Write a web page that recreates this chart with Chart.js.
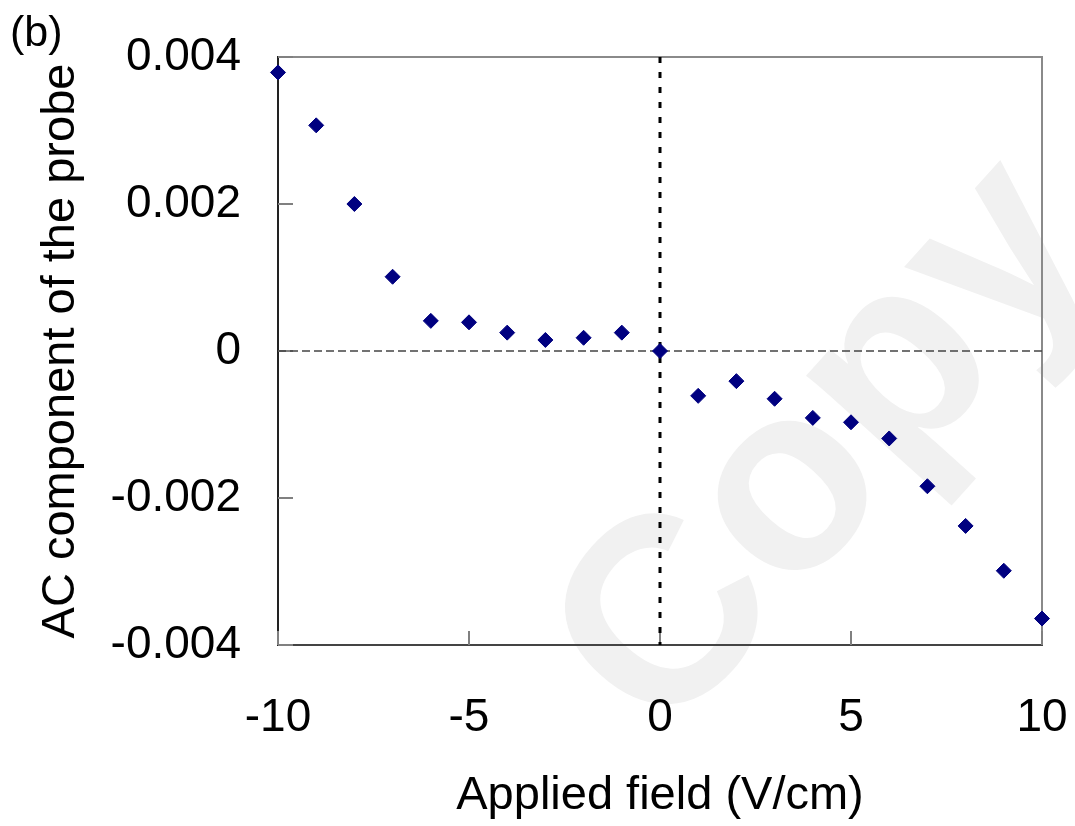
<!DOCTYPE html>
<html>
<head>
<meta charset="utf-8">
<script src="https://cdn.jsdelivr.net/npm/chart.js@4"></script>
<style>
  html, body { margin: 0; padding: 0; background: #ffffff; }
  #wrap { width: 1075px; height: 826px; position: relative; }
</style>
</head>
<body>
<div id="wrap"><canvas id="c" width="1075" height="826"></canvas></div>
<script>
// ---- data ----
const fieldValues = [-10, -9, -8, -7, -6, -5, -4, -3, -2, -1, 0, 1, 2, 3, 4, 5, 6, 7, 8, 9, 10];
const acValues = [0.00379, 0.00307, 0.00200, 0.00101, 0.00041, 0.00039, 0.00025, 0.00015, 0.00018, 0.00025, 0.0,
                  -0.00061, -0.00041, -0.00065, -0.00091, -0.00097, -0.00119, -0.00184, -0.00238, -0.00299, -0.00364];
const xTickValues = [-10, -5, 0, 5, 10];
const xTickLabels = ['-10', '-5', '0', '5', '10'];
const yTickValues = [-0.004, -0.002, 0, 0.002, 0.004];
const yTickLabels = ['-0.004', '-0.002', '0', '0.002', '0.004'];
const xTitle = 'Applied field (V/cm)';
const yTitle = 'AC component of the probe';
const panelLabel = '(b)';
const watermarkText = 'Copy';

const FONT = '"Liberation Sans", Arial, sans-serif';

function labelFor(values, labels, v) {
  for (let i = 0; i < values.length; i++) {
    if (Math.abs(values[i] - v) < 1e-9) return labels[i];
  }
  return '';
}

const decorPlugin = {
  id: 'decor',
  beforeDraw(chart) {
    const ctx = chart.ctx;
    ctx.save();
    ctx.fillStyle = '#ffffff';
    ctx.fillRect(0, 0, chart.width, chart.height);
    // watermark
    ctx.fillStyle = '#f1f1f1';
    ctx.font = 'bold 265px ' + FONT;
    ctx.translate(662, 745);
    ctx.rotate(-48 * Math.PI / 180);
    ctx.textAlign = 'left';
    ctx.textBaseline = 'alphabetic';
    ctx.fillText(watermarkText, 0, 0);
    ctx.restore();
  },
  beforeDatasetsDraw(chart) {
    const ctx = chart.ctx;
    const a = chart.chartArea;
    const xs = chart.scales.x, ys = chart.scales.y;
    ctx.save();
    // top and right frame
    ctx.strokeStyle = '#8a8a8a';
    ctx.lineWidth = 2;
    ctx.beginPath();
    ctx.moveTo(a.left, a.top);
    ctx.lineTo(a.right, a.top);
    ctx.lineTo(a.right, a.bottom);
    ctx.stroke();
    // inward ticks
    ctx.strokeStyle = '#808080';
    ctx.lineWidth = 2;
    yTickValues.forEach(v => {
      const y = ys.getPixelForValue(v);
      ctx.beginPath();
      ctx.moveTo(a.left, y);
      ctx.lineTo(a.left + 15, y);
      ctx.stroke();
    });
    xTickValues.forEach(v => {
      const x = xs.getPixelForValue(v);
      ctx.beginPath();
      ctx.moveTo(x, a.bottom);
      ctx.lineTo(x, a.bottom - 14);
      ctx.stroke();
    });
    // horizontal dashed zero line
    const y0 = ys.getPixelForValue(0);
    ctx.strokeStyle = '#444444';
    ctx.lineWidth = 1.5;
    ctx.setLineDash([8, 4]);
    ctx.beginPath();
    ctx.moveTo(a.left, y0);
    ctx.lineTo(a.right, y0);
    ctx.stroke();
    // vertical dotted zero line
    const x0 = xs.getPixelForValue(0);
    ctx.strokeStyle = '#000000';
    ctx.lineWidth = 3;
    ctx.setLineDash([6, 9]);
    ctx.beginPath();
    ctx.moveTo(x0, a.top);
    ctx.lineTo(x0, a.bottom);
    ctx.stroke();
    ctx.restore();
  },
  afterDraw(chart) {
    const ctx = chart.ctx;
    ctx.save();
    ctx.fillStyle = '#000000';
    ctx.font = '43px ' + FONT;
    ctx.textAlign = 'left';
    ctx.textBaseline = 'alphabetic';
    ctx.fillText(panelLabel, 10, 46);
    ctx.restore();
  }
};

const points = fieldValues.map((x, i) => ({ x: x, y: acValues[i] }));

new Chart(document.getElementById('c'), {
  type: 'scatter',
  data: {
    datasets: [{
      data: points,
      pointStyle: 'rectRot',
      pointRadius: 7.5,
      pointHoverRadius: 7.5,
      backgroundColor: '#000080',
      borderColor: '#000080',
      borderWidth: 1,
      clip: false
    }]
  },
  options: {
    responsive: false,
    animation: false,
    devicePixelRatio: 1,
    layout: { padding: { top: 57, right: 33, bottom: 0, left: 0 } },
    plugins: { legend: { display: false }, tooltip: { enabled: false } },
    scales: {
      x: {
        type: 'linear',
        position: 'bottom',
        min: -10, max: 10,
        afterBuildTicks(scale) { scale.ticks = xTickValues.map(v => ({ value: v })); },
        afterFit(scale) {
          scale.height = 181;
          scale.paddingLeft = 0; scale.paddingRight = 0;
        },
        ticks: {
          color: '#000000',
          font: { family: FONT, size: 46 },
          padding: 46,
          maxRotation: 0,
          autoSkip: false,
          callback: (v) => labelFor(xTickValues, xTickLabels, v)
        },
        grid: { display: false, drawTicks: false },
        border: { display: true, color: '#444444', width: 2 },
        title: {
          display: true,
          text: xTitle,
          color: '#000000',
          font: { family: FONT, size: 47 },
          padding: { top: 0, bottom: 2 }
        }
      },
      y: {
        type: 'linear',
        position: 'left',
        min: -0.004, max: 0.004,
        afterBuildTicks(scale) { scale.ticks = yTickValues.map(v => ({ value: v })); },
        afterFit(scale) {
          scale.width = 278;
          scale.paddingTop = 0; scale.paddingBottom = 0;
        },
        ticks: {
          color: '#000000',
          font: { family: FONT, size: 46 },
          padding: 37,
          autoSkip: false,
          callback: (v) => labelFor(yTickValues, yTickLabels, v)
        },
        grid: { display: false, drawTicks: false },
        border: { display: true, color: '#222222', width: 2 },
        title: {
          display: true,
          text: yTitle,
          color: '#000000',
          font: { family: FONT, size: 47 },
          padding: { top: 33, bottom: 0 }
        }
      }
    }
  },
  plugins: [decorPlugin]
});
</script>
</body>
</html>
